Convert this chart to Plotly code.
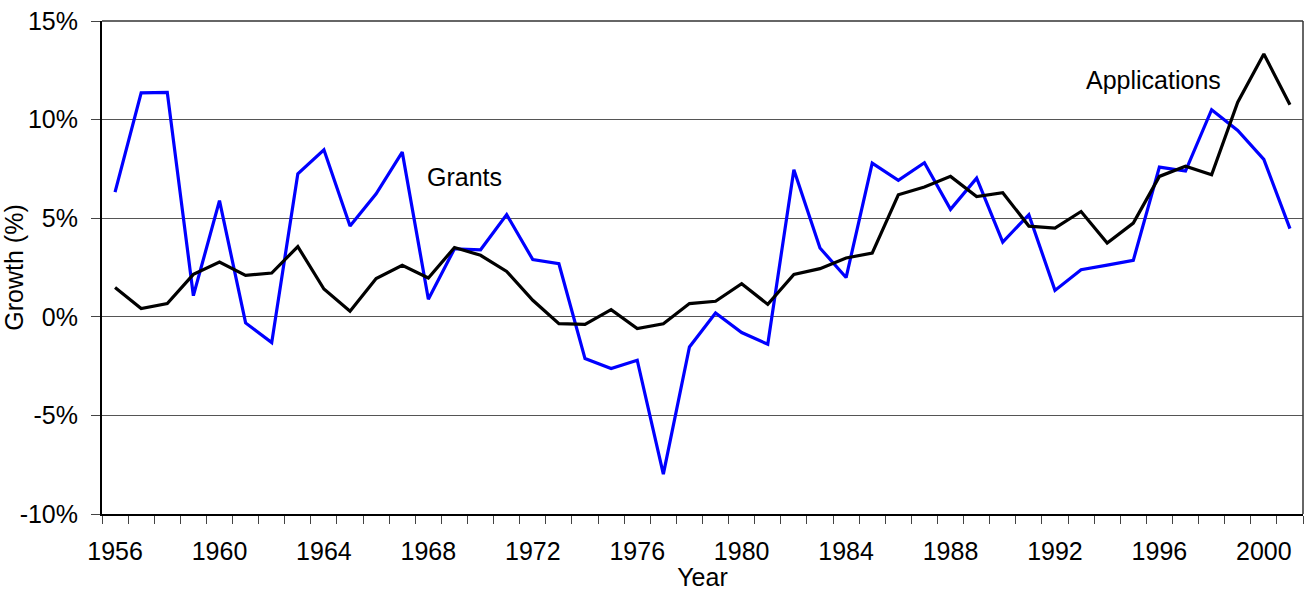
import plotly.graph_objects as go

years = list(range(1956, 2002))
grants = [6.32, 11.36, 11.38, 1.07, 5.89, -0.31, -1.31, 7.25, 8.47, 4.60,
          6.24, 8.35, 0.89, 3.45, 3.40, 5.18, 2.90, 2.69, -2.12, -2.62,
          -2.20, -7.98, -1.53, 0.19, -0.80, -1.39, 7.46, 3.49, 1.99, 7.79,
          6.92, 7.81, 5.45, 7.03, 3.79, 5.18, 1.34, 2.39, 2.62, 2.86,
          7.59, 7.39, 10.50, 9.45, 7.98, 4.47]
applications = [1.48, 0.42, 0.67, 2.15, 2.78, 2.10, 2.22, 3.56, 1.41, 0.28,
                1.94, 2.61, 1.97, 3.51, 3.12, 2.30, 0.84, -0.35, -0.38, 0.36,
                -0.60, -0.35, 0.67, 0.79, 1.68, 0.63, 2.15, 2.44, 2.98, 3.23,
                6.19, 6.58, 7.12, 6.10, 6.29, 4.60, 4.50, 5.34, 3.74, 4.75,
                7.12, 7.64, 7.20, 10.88, 13.33, 10.75]
x_tick_vals = list(range(1956, 2001, 4))
y_tick_vals = [-10, -5, 0, 5, 10, 15]
y_tick_text = ["-10%", "-5%", "0%", "5%", "10%", "15%"]

FONT = "Liberation Sans, Arial, sans-serif"

fig = go.Figure()
fig.add_trace(go.Scatter(x=years, y=grants, mode="lines", name="Grants",
                         line=dict(color="#0000FF", width=3.2)))
fig.add_trace(go.Scatter(x=years, y=applications, mode="lines", name="Applications",
                         line=dict(color="#000000", width=3.2)))

fig.add_annotation(x=1969.4, y=7.07, text="Grants", showarrow=False,
                   font=dict(size=25, color="black", family=FONT))
fig.add_annotation(x=1995.77, y=12.03, text="Applications", showarrow=False,
                   font=dict(size=25, color="black", family=FONT))

fig.update_layout(
    width=1304, height=591,
    margin=dict(l=102, r=1, t=21, b=77),
    paper_bgcolor="white", plot_bgcolor="white",
    showlegend=False,
    font=dict(family=FONT, size=25, color="black"),
    xaxis=dict(
        range=[1955.5, 2001.5],
        tickvals=x_tick_vals,
        ticks="", showgrid=False, zeroline=False,
        showline=True, linecolor="black", linewidth=2,
        ticklabelstandoff=14,
        minor=dict(tick0=1955.5, dtick=1, ticks="outside", ticklen=8,
                   tickcolor="#444", tickwidth=1, showgrid=False),
        title=dict(text="Year", font=dict(size=25), standoff=0),
    ),
    yaxis=dict(
        range=[-10, 15],
        tickvals=y_tick_vals, ticktext=y_tick_text,
        ticks="outside", ticklen=9, tickcolor="#444", tickwidth=1,
        showgrid=True, gridcolor="#555", gridwidth=1,
        zeroline=False,
        showline=True, linecolor="black", linewidth=2,
        ticklabelstandoff=8,
        title=dict(text="Growth (%)", font=dict(size=25), standoff=2),
    ),
)
fig.add_shape(type="line", xref="paper", yref="paper", x0=0, x1=1, y0=1, y1=1,
              line=dict(color="#333", width=1.5))
fig.add_shape(type="line", xref="paper", yref="paper", x0=1, x1=1, y0=0, y1=1,
              line=dict(color="#333", width=1.5))

fig.write_html("out.html", config={"displayModeBar": False},
               post_script="document.body.style.margin='0px';document.body.style.overflow='hidden';")
